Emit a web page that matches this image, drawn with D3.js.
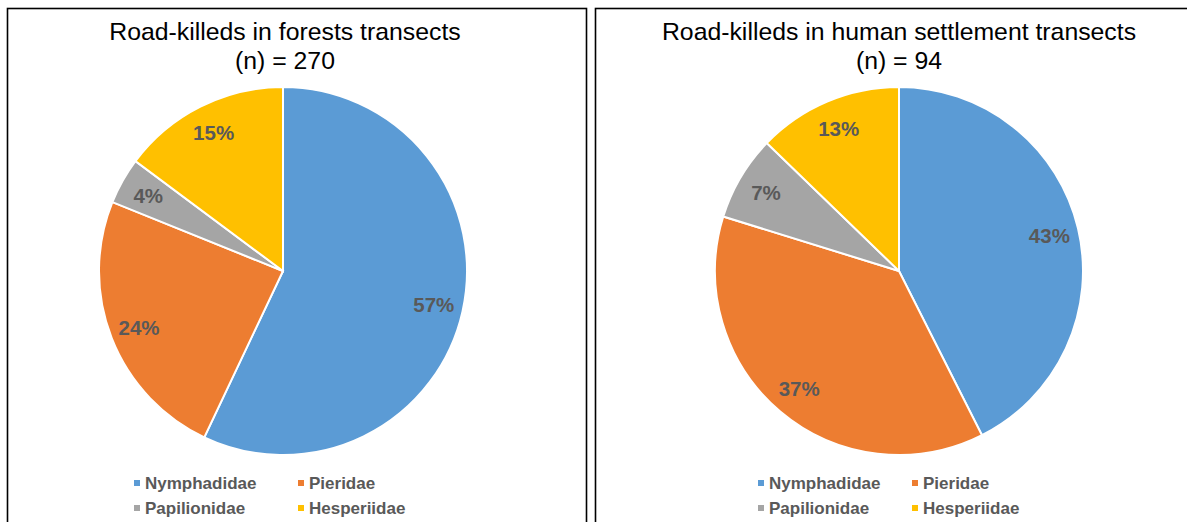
<!DOCTYPE html>
<html>
 <head>
  <meta charset="utf-8">
  <title>Road-killed butterflies</title>
  <script src="https://cdnjs.cloudflare.com/ajax/libs/d3/7.8.3/d3.min.js"></script>
  <style>
   body { margin: 0; background: #fff; }
   text { font-family: "Liberation Sans", Arial, sans-serif; }
  </style>
 </head>
 <body>
  <script>
   // families (same order in both pies, clockwise from 12 o'clock)
   const families = ["Nymphadidae", "Pieridae", "Papilionidae", "Hesperiidae"];
   const colors = ["#5B9BD5", "#ED7D31", "#A5A5A5", "#FFC000"];

   // estimated counts, read from the percentages and n
   const forestCounts = [154, 65, 11, 40];
   const settlementCounts = [40, 35, 7, 12];

   const titles = ["Road-killeds in forests transects", "Road-killeds in human settlement transects"];
   const nLabels = ["(n) = 270", "(n) = 94"];

   const w = 1187;
   const h = 522;
   const r = 184;

   const svg = d3.select("body")
                 .append("svg")
                 .attr("width", w)
                 .attr("height", h);

   // panel boxes
   svg.append("rect")
      .attr("x", 7.5).attr("y", 8.5)
      .attr("width", 579).attr("height", 540)
      .attr("fill", "none").attr("stroke", "#000").attr("stroke-width", 1.6);
   svg.append("rect")
      .attr("x", 595.5).attr("y", 8.5)
      .attr("width", 620).attr("height", 540)
      .attr("fill", "none").attr("stroke", "#000").attr("stroke-width", 1.6);

   const panels = [
    {counts: forestCounts, title: titles[0], n: nLabels[0], cx: 283, tx: 285, leg: [134, 298]},
    {counts: settlementCounts, title: titles[1], n: nLabels[1], cx: 899, tx: 899, leg: [758, 912]}
   ];

   const pie = d3.pie().sort(null).value(d => d);
   const arc = d3.arc().innerRadius(0).outerRadius(r);
   const labelArc = d3.arc().innerRadius(r * 0.84).outerRadius(r * 0.84);

   panels.forEach(p => {
    const total = d3.sum(p.counts);

    svg.append("text")
       .attr("x", p.tx).attr("y", 40)
       .attr("text-anchor", "middle")
       .attr("font-size", 24.8)
       .attr("fill", "#000")
       .text(p.title);
    svg.append("text")
       .attr("x", p.tx).attr("y", 69)
       .attr("text-anchor", "middle")
       .attr("font-size", 24.8)
       .attr("fill", "#000")
       .text(p.n);

    const g = svg.append("g")
                 .attr("transform", "translate(" + p.cx + ",271)");
    const arcs = pie(p.counts);

    g.selectAll("path")
     .data(arcs)
     .enter()
     .append("path")
     .attr("d", arc)
     .attr("fill", (d, i) => colors[i])
     .attr("stroke", "#fff")
     .attr("stroke-width", 2);

    g.selectAll("text")
     .data(arcs)
     .enter()
     .append("text")
     .attr("transform", d => "translate(" + labelArc.centroid(d) + ")")
     .attr("text-anchor", "middle")
     .attr("dy", "0.36em")
     .attr("font-size", 20.5)
     .attr("font-weight", "bold")
     .attr("fill", "#595959")
     .text(d => Math.round(d.data / total * 100) + "%");

    // legend, 2 x 2
    const leg = svg.append("g");
    families.forEach((f, i) => {
     const x = p.leg[i % 2];
     const y = i < 2 ? 483 : 508;
     leg.append("rect")
        .attr("x", x).attr("y", y - 3)
        .attr("width", 6).attr("height", 6)
        .attr("fill", colors[i]);
     leg.append("text")
        .attr("x", x + 11).attr("y", y)
        .attr("dy", "0.35em")
        .attr("font-size", 17)
        .attr("font-weight", "bold")
        .attr("fill", "#595959")
        .text(f);
    });
   });
  </script>
 </body>
</html>
